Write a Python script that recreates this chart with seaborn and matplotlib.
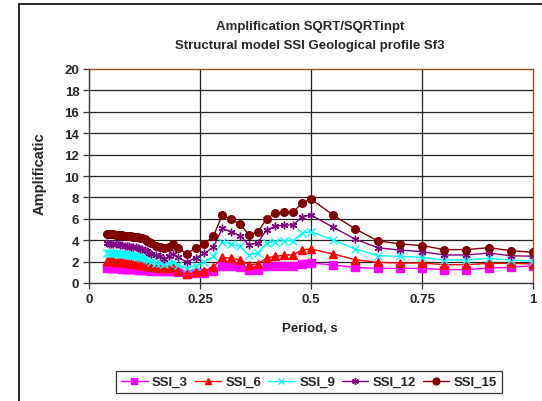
import matplotlib
matplotlib.use("Agg")
import matplotlib.pyplot as plt
from matplotlib.lines import Line2D
import seaborn as sns
import pandas as pd

periods = [0.04, 0.045, 0.05, 0.055, 0.06, 0.065, 0.07, 0.075, 0.08, 0.085, 0.09,
           0.095, 0.10, 0.105, 0.11, 0.115, 0.12, 0.125, 0.13, 0.135, 0.14,
           0.15, 0.16, 0.17, 0.18, 0.19, 0.20,
           0.22, 0.24, 0.26, 0.28, 0.30, 0.32, 0.34, 0.36, 0.38, 0.40, 0.42, 0.44, 0.46, 0.48,
           0.50, 0.55, 0.60, 0.65, 0.70, 0.75, 0.80, 0.85, 0.90, 0.95, 1.00]

ssi_3 = [1.4, 1.4, 1.39, 1.38, 1.38, 1.37, 1.36, 1.35, 1.34, 1.33, 1.32, 1.3, 1.28, 1.27, 1.25, 1.24, 1.22, 1.2, 1.18, 1.17, 1.15,
         1.12, 1.12, 1.1, 1.12, 1.1, 1.0,
         0.84, 0.9, 0.9, 1.1, 1.56, 1.56, 1.46, 1.22, 1.25, 1.56, 1.56, 1.56, 1.56, 1.78,
         1.87, 1.68, 1.46, 1.37, 1.37, 1.37, 1.25, 1.25, 1.4, 1.46, 1.62]
ssi_6 = [2.05, 2.04, 2.03, 2.02, 2.0, 1.98, 1.96, 1.94, 1.92, 1.9, 1.88, 1.85, 1.82, 1.8, 1.77, 1.74, 1.7, 1.66, 1.62, 1.58, 1.52,
         1.45, 1.42, 1.37, 1.4, 1.48, 1.15,
         0.84, 1.0, 1.15, 1.46, 2.4, 2.3, 2.18, 1.71, 1.78, 2.34, 2.5, 2.6, 2.62, 3.1,
         3.18, 2.71, 2.18, 1.93, 1.87, 1.87, 1.71, 1.71, 1.84, 1.84, 1.78]
ssi_9 = [2.85, 2.84, 2.82, 2.8, 2.78, 2.76, 2.74, 2.72, 2.7, 2.67, 2.64, 2.6, 2.57, 2.54, 2.5, 2.45, 2.38, 2.3, 2.22, 2.12, 2.0,
         1.9, 1.85, 1.75, 1.85, 2.0, 1.68,
         1.37, 1.62, 1.93, 2.49, 3.86, 3.64, 3.43, 2.62, 2.8, 3.74, 3.86, 3.95, 3.95, 4.67,
         4.8, 4.02, 3.18, 2.55, 2.49, 2.4, 2.15, 2.15, 2.3, 2.15, 2.03]
ssi_12 = [3.7, 3.68, 3.66, 3.64, 3.62, 3.6, 3.57, 3.54, 3.5, 3.47, 3.44, 3.4, 3.36, 3.32, 3.28, 3.22, 3.15, 3.05, 2.95, 2.85, 2.75,
          2.6, 2.5, 2.25, 2.5, 2.72, 2.42,
          1.95, 2.35, 2.78, 3.35, 5.1, 4.8, 4.42, 3.58, 3.74, 4.98, 5.3, 5.42, 5.42, 6.2,
          6.36, 5.2, 4.1, 3.3, 3.08, 2.93, 2.62, 2.62, 2.8, 2.55, 2.5]
ssi_15 = [4.6, 4.58, 4.56, 4.55, 4.53, 4.5, 4.48, 4.45, 4.42, 4.4, 4.38, 4.35, 4.32, 4.3, 4.28, 4.25, 4.2, 4.1, 3.95, 3.85, 3.75,
          3.45, 3.35, 3.25, 3.35, 3.62, 3.3,
          2.72, 3.3, 3.65, 4.38, 6.32, 5.95, 5.52, 4.5, 4.75, 6.0, 6.55, 6.6, 6.6, 7.5,
          7.85, 6.35, 5.05, 3.95, 3.65, 3.5, 3.12, 3.12, 3.3, 3.02, 2.87]

series_names = ["SSI_3", "SSI_6", "SSI_9", "SSI_12", "SSI_15"]
series_values = [ssi_3, ssi_6, ssi_9, ssi_12, ssi_15]
colors = ["#FF00FF", "#FF0000", "#00FFFF", "#800080", "#800000"]
markers = ["s", "^", "x", (6, 2, 0), "o"]

y_ticks = [0, 2, 4, 6, 8, 10, 12, 14, 16, 18, 20]
x_ticks = [0, 0.25, 0.5, 0.75, 1]
x_tick_labels = ["0", "0.25", "0.5", "0.75", "1"]

sns.set_theme(style="white")
plt.rcParams["font.family"] = ["Liberation Sans", "DejaVu Sans"]

fig = plt.figure(figsize=(5.42, 4.02), dpi=100)
ax = fig.add_axes([89 / 542, 1 - 284 / 402, (533 - 89) / 542, (284 - 70) / 402])

for name, vals, c, m in zip(series_names, series_values, colors, markers):
    df = pd.DataFrame({"Period": periods, "Amp": vals})
    sns.lineplot(data=df, x="Period", y="Amp", ax=ax, color=c, marker=m,
                 markersize=5.5, markeredgecolor=c, markerfacecolor=c,
                 markeredgewidth=1.0, linewidth=1.0, label=name, legend=False)

ax.set_xlim(0, 1)
ax.set_ylim(0, 20)
ax.set_xticks(x_ticks)
ax.set_xticklabels(x_tick_labels)
ax.set_yticks(y_ticks)
ax.grid(False)
for yv in y_ticks[1:-1]:
    ax.axhline(yv, color="#222222", lw=0.9, zorder=0)
for xv in x_ticks[1:-1]:
    ax.axvline(xv, color="#222222", lw=0.9, zorder=0)

for side in ["top", "right"]:
    ax.spines[side].set_color("#9A4A1E")
    ax.spines[side].set_linewidth(1.0)
for side in ["left", "bottom"]:
    ax.spines[side].set_color("#333333")
    ax.spines[side].set_linewidth(1.0)

ax.tick_params(axis="both", which="major", direction="out", length=4, width=0.9,
               color="#333333", labelsize=9.5, pad=3,
               bottom=True, left=True)
for lab in ax.get_xticklabels() + ax.get_yticklabels():
    lab.set_fontweight("bold")

ax.set_xlabel("")
ax.set_ylabel("")
fig.text(310 / 542, 1 - 329 / 402, "Period, s", ha="center", va="center",
         fontsize=9.5, fontweight="bold")
fig.text(40 / 542, 1 - 174 / 402, "Amplificatic", ha="center", va="center",
         rotation=90, fontsize=10.5, fontweight="bold")

fig.text(310 / 542, 1 - 27 / 402, "Amplification SQRT/SQRTinpt", ha="center",
         va="center", fontsize=9.5, fontweight="bold")
fig.text(310 / 542, 1 - 46 / 402, "Structural model SSI Geological profile Sf3",
         ha="center", va="center", fontsize=9.5, fontweight="bold")

# outer chart frame
fig.add_artist(Line2D([19 / 542, 1.0], [1 - 5 / 402, 1 - 5 / 402],
                      transform=fig.transFigure, color="black", lw=1.2))
fig.add_artist(Line2D([19 / 542, 19 / 542], [0, 1 - 5 / 402],
                      transform=fig.transFigure, color="black", lw=1.2))

handles, labels = ax.get_legend_handles_labels()
leg = fig.legend(handles, labels, loc="center", ncol=5,
                 bbox_to_anchor=(309 / 542, 1 - 383 / 402),
                 frameon=True, fancybox=False, fontsize=9.5,
                 handlelength=2.0, handletextpad=0.35, columnspacing=0.5,
                 borderpad=0.4, markerscale=0.9)
leg.get_frame().set_edgecolor("black")
leg.get_frame().set_linewidth(0.9)
for t in leg.get_texts():
    t.set_fontweight("bold")

fig.savefig("out.png", dpi=100)
